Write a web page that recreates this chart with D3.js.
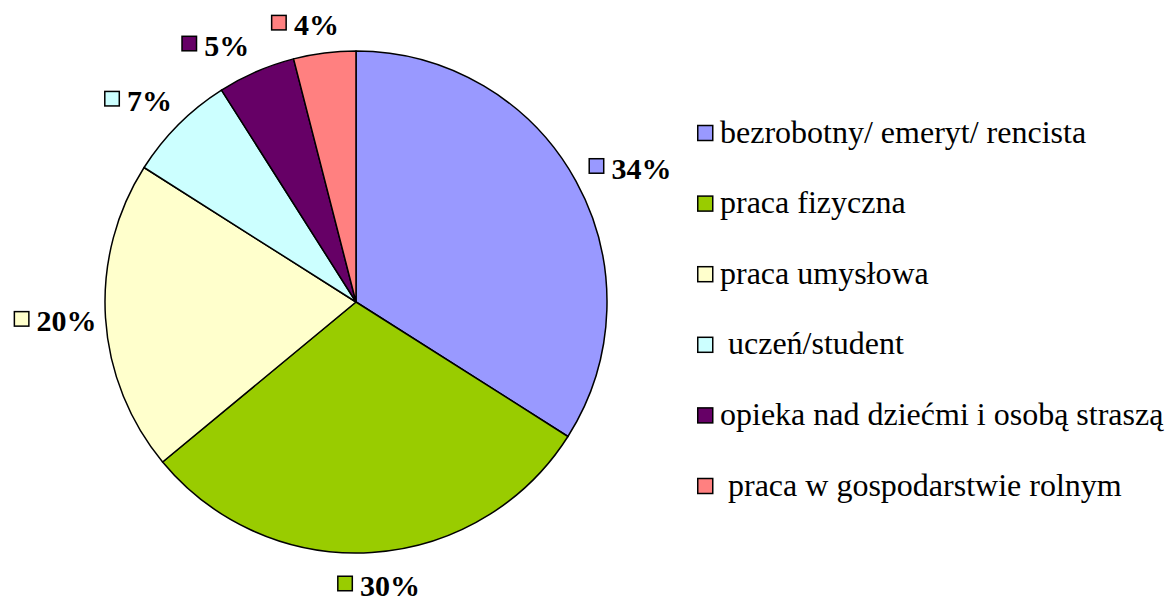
<!DOCTYPE html>
<html>
<head>
<meta charset="utf-8">
<script src="https://cdn.jsdelivr.net/npm/d3@7"></script>
<style>
  html, body { margin: 0; padding: 0; background: #fff; }
  svg { display: block; }
  text { white-space: pre; }
</style>
</head>
<body>
<svg id="chart" width="1167" height="601"></svg>
<script>
// ---- data ----
const categories = [
  "bezrobotny/ emeryt/ rencista",
  "praca fizyczna",
  "praca umysłowa",
  " uczeń/student",
  "opieka nad dziećmi i osobą straszą",
  " praca w gospodarstwie rolnym"
];
const values = [34, 30, 20, 7, 5, 4];
const valueLabels = ["34%", "30%", "20%", "7%", "5%", "4%"];
const colors = ["#9999FF", "#99CC00", "#FFFFCC", "#CCFFFF", "#660066", "#FF8080"];

// ---- layout ----
const FONT = '"Liberation Serif", "Times New Roman", serif';
const cx = 356, cy = 302, radius = 251;
const labelRadius = 270;
const labelNudgeX = [1, 3, 10, -3, -20, -13];
const labelNudgeY = [1, 3, 1, -3, 1, 1];
const legendX = 697, legendTop = 133, legendStep = 70.6, legendBox = 15;

const svg = d3.select("#chart");
const g = svg.append("g").attr("transform", `translate(${cx},${cy})`);

const pie = d3.pie().sort(null).value(d => d)(values);
const arc = d3.arc().innerRadius(0).outerRadius(radius);

g.selectAll("path.slice")
  .data(pie)
  .join("path")
  .attr("class", "slice")
  .attr("d", arc)
  .attr("fill", (d, i) => colors[i])
  .attr("stroke", "#000")
  .attr("stroke-width", 1.5)
  .attr("stroke-linejoin", "round");

// data labels
const labelFont = 30;
const lbls = svg.selectAll("g.dlabel")
  .data(pie)
  .join("g")
  .attr("class", "dlabel");

lbls.each(function(d, i) {
  const sel = d3.select(this);
  const box = 16, gap = 7;
  const t = sel.append("text")
    .style("font-family", FONT)
    .style("font-size", labelFont + "px")
    .style("font-weight", "bold")
    .attr("fill", "#000")
    .text(valueLabels[i]);
  const tw = t.node().getComputedTextLength();
  const w = box + gap + tw;
  const h = labelFont * 0.72;
  const a = (d.startAngle + d.endAngle) / 2;
  const dx = Math.sin(a), dy = -Math.cos(a);
  const mx = cx + labelRadius * dx + dx * w / 2 + labelNudgeX[i];
  const my = cy + labelRadius * dy + dy * h / 2 + labelNudgeY[i];
  const left = mx - w / 2;
  const baseline = my + h / 2;
  sel.insert("rect", "text")
    .attr("x", left + 0.75)
    .attr("y", baseline - h / 2 - box / 2 - 1)
    .attr("width", box - 1.5)
    .attr("height", box - 1.5)
    .attr("fill", colors[i])
    .attr("stroke", "#000")
    .attr("stroke-width", 1.5);
  t.attr("x", left + box + gap).attr("y", baseline);
});

// legend
const legendFont = 32;
const leg = svg.selectAll("g.legend")
  .data(categories)
  .join("g")
  .attr("class", "legend")
  .attr("transform", (d, i) => `translate(${legendX},${legendTop + i * legendStep})`);

leg.append("rect")
  .attr("x", 0.75)
  .attr("y", -legendBox / 2)
  .attr("width", legendBox)
  .attr("height", legendBox)
  .attr("fill", (d, i) => colors[i])
  .attr("stroke", "#000")
  .attr("stroke-width", 1.5);

leg.append("text")
  .attr("x", 23)
  .attr("y", legendFont * 0.3)
  .style("font-family", FONT)
  .style("font-size", legendFont + "px")
  .attr("fill", "#000")
  .text(d => d);
</script>
</body>
</html>
